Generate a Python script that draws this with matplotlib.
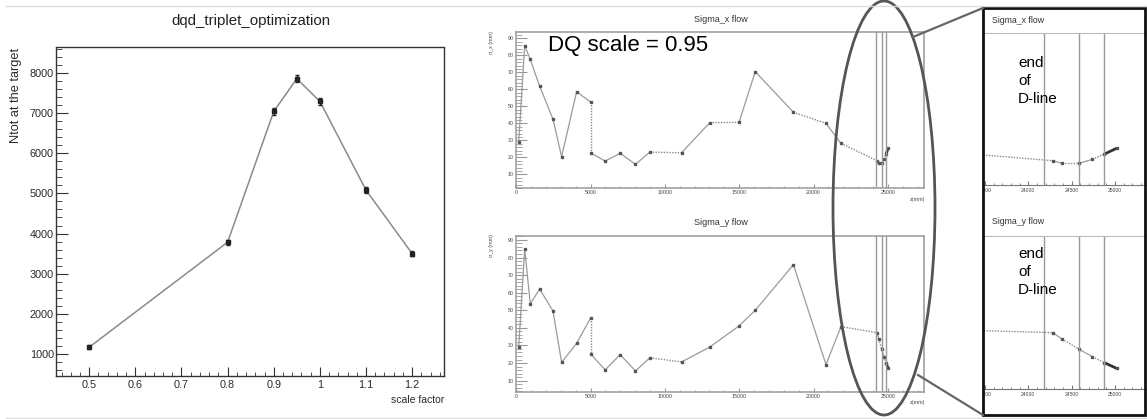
import matplotlib
matplotlib.use("Agg")
import matplotlib.pyplot as plt
import numpy as np
from matplotlib.patches import Ellipse, Rectangle
from matplotlib.lines import Line2D
from matplotlib.transforms import Bbox, TransformedBbox
from matplotlib.ticker import MultipleLocator, FixedLocator

plt.rcParams['font.family'] = ['Liberation Sans', 'DejaVu Sans']

# ---------------- data ----------------
scale_factor = [0.5, 0.8, 0.9, 0.95, 1.0, 1.1, 1.2]
ntot_target = [1170, 3785, 7040, 7855, 7290, 5080, 3500]
ntot_err = [50, 60, 80, 80, 80, 70, 60]

z_mm = [160, 565, 940, 1570, 2470, 3050, 4060, 5000, 5000, 5980, 6990, 8020,
        8990, 11120, 13020, 14990, 16080, 18650, 20840, 21850, 24280, 24390,
        24590, 24740, 24880, 25020]
sigma_x = [28.8, 85.6, 77.6, 61.9, 42.4, 20.4, 58.6, 52.5, 22.7, 17.8, 22.4, 15.9,
           23.1, 22.7, 40.4, 40.6, 70.4, 46.5, 40.0, 28.2, 18.0, 16.5,
           16.5, 18.8, 21.9, 25.3]
sigma_y = [29.0, 84.9, 53.6, 62.1, 49.6, 20.4, 31.2, 45.6, 25.2, 16.1, 24.8, 15.5,
           23.0, 20.6, 29.1, 41.1, 50.0, 75.9, 19.1, 40.7, 37.3, 33.7,
           27.8, 23.6, 20.2, 17.0]
dline_z = [24180, 24590, 24880]

dotted_x = {7, 12, 14, 17, 19, 21, 23}
dotted_y = {7, 12, 19, 21, 23}

W, H = 1147, 419
fig = plt.figure(figsize=(W / 100, H / 100), dpi=100)
fig.patch.set_facecolor('white')


def rect(x0, y0, x1, y1):
    return [x0 / W, 1 - y1 / H, (x1 - x0) / W, (y1 - y0) / H]


def fx(x):
    return x / W


def fy(y):
    return 1 - y / H


# screenshot separators
for yy in (6.5, 417.5):
    fig.add_artist(Line2D([fx(6), 1], [fy(yy), fy(yy)], color='#dddddd', lw=1))

# ---------------- left panel ----------------
ax1 = fig.add_axes(rect(56, 47.5, 444, 376))
ax1.plot(scale_factor, ntot_target, '-', color='#8a8a8a', lw=1.1)
ax1.errorbar(scale_factor, ntot_target, yerr=ntot_err, fmt='s', ms=2.2,
             color='#222222', elinewidth=1, capsize=1.5, capthick=1)
ax1.set_xlim(0.428, 1.269)
ax1.set_ylim(453, 8632)
ax1.xaxis.set_major_locator(FixedLocator([0.5, 0.6, 0.7, 0.8, 0.9, 1.0, 1.1, 1.2]))
ax1.xaxis.set_minor_locator(MultipleLocator(0.02))
ax1.yaxis.set_major_locator(FixedLocator([1000, 2000, 3000, 4000, 5000, 6000, 7000, 8000]))
ax1.yaxis.set_minor_locator(MultipleLocator(200))
ax1.set_xticklabels(['0.5', '0.6', '0.7', '0.8', '0.9', '1', '1.1', '1.2'])
ax1.tick_params(axis='both', which='both', direction='in', top=False, right=False,
                colors='#333333', labelcolor='#2a2a2a', labelsize=7.8)
ax1.tick_params(axis='y', which='major', length=8.4, pad=1.5)
ax1.tick_params(axis='y', which='minor', length=4.3)
ax1.tick_params(axis='x', which='major', length=6.7, pad=3)
ax1.tick_params(axis='x', which='minor', length=3)
for sp in ax1.spines.values():
    sp.set_color('#333333')
    sp.set_linewidth(1)
fig.text(fx(250.5), fy(20.7), 'dqd_triplet_optimization', ha='center', va='center',
         fontsize=10.8, color='#222222')
fig.text(fx(16), fy(47.7), 'Ntot at the target', rotation=90, ha='center', va='top',
         fontsize=9.2, color='#2a2a2a')
fig.text(fx(444), fy(400), 'scale factor', ha='right', va='center', fontsize=7.5,
         color='#2a2a2a')


# ---------------- flow plots ----------------
def draw_flow(ax, yvals, dotted):
    n = len(z_mm)
    for i in range(n - 1):
        seg_z = z_mm[i:i + 2]
        seg_s = yvals[i:i + 2]
        if i == n - 2:
            ax.plot(seg_z, seg_s, '-', color='#333333', lw=2.0, solid_capstyle='butt')
        elif i in dotted:
            ax.plot(seg_z, seg_s, color='#8a8a8a', lw=1.0, ls=(0, (1, 1)))
        else:
            ax.plot(seg_z, seg_s, '-', color='#9a9a9a', lw=0.9)
    ax.plot(z_mm, yvals, 's', ms=1.8, color='#555555', ls='none')
    for zz in dline_z:
        ax.axvline(zz, color='#999999', lw=1.0)


def style_main(ax, ylim):
    ax.set_xlim(0, 27456)
    ax.set_ylim(*ylim)
    ax.xaxis.set_major_locator(FixedLocator([0, 5000, 10000, 15000, 20000, 25000]))
    ax.xaxis.set_minor_locator(MultipleLocator(1000))
    ax.yaxis.set_major_locator(FixedLocator([10, 20, 30, 40, 50, 60, 70, 80, 90]))
    ax.yaxis.set_minor_locator(MultipleLocator(2))
    ax.tick_params(axis='both', which='both', direction='in', top=False, right=False,
                   colors='#999999', labelcolor='#444444', labelsize=3.8)
    ax.tick_params(axis='x', which='major', length=3, pad=1.5)
    ax.tick_params(axis='x', which='minor', length=1.5)
    ax.tick_params(axis='y', which='major', length=8, pad=2)
    ax.tick_params(axis='y', which='minor', length=4.3)
    for sp in ax.spines.values():
        sp.set_color('#999999')
        sp.set_linewidth(1.1)


axx = fig.add_axes(rect(516.3, 31.7, 924.3, 188.3))
draw_flow(axx, sigma_x, dotted_x)
style_main(axx, (1.8, 93.9))
fig.text(fx(720.5), fy(19), 'Sigma_x flow', ha='center', va='center', fontsize=6.5,
         color='#333333')
fig.text(fx(491), fy(31), 'σ_x (mm)', rotation=90, ha='center', va='top', fontsize=3.8,
         color='#444444')
fig.text(fx(925), fy(200), 'z(mm)', ha='right', va='center', fontsize=3.8, color='#444444')
fig.text(fx(547.7), fy(45), 'DQ scale = 0.95', ha='left', va='center', fontsize=16,
         color='black')

axy = fig.add_axes(rect(516.3, 235.7, 924.3, 391.7))
draw_flow(axy, sigma_y, dotted_y)
style_main(axy, (3.7, 92.4))
fig.text(fx(720.7), fy(222.7), 'Sigma_y flow', ha='center', va='center', fontsize=6.5,
         color='#333333')
fig.text(fx(491), fy(234), 'σ_y (mm)', rotation=90, ha='center', va='top', fontsize=3.8,
         color='#444444')
fig.text(fx(925), fy(402), 'z(mm)', ha='right', va='center', fontsize=3.8, color='#444444')

# ---------------- zoomed inset ----------------
clip_bb = TransformedBbox(Bbox([[fx(984), 0], [1, 1]]), fig.transFigure)


def style_inset(ax, ylim):
    ax.set_xlim(23477, 25371)
    ax.set_ylim(*ylim)
    ax.set_facecolor('none')
    ax.xaxis.set_major_locator(FixedLocator([23500, 24000, 24500, 25000]))
    ax.xaxis.set_minor_locator(MultipleLocator(100))
    ax.set_yticks([])
    ax.tick_params(axis='x', which='both', direction='in', top=False,
                   colors='#777777', labelcolor='#444444', labelsize=3.6)
    ax.tick_params(axis='x', which='major', length=3, pad=2)
    ax.tick_params(axis='x', which='minor', length=1.5)
    for s in ('left', 'right'):
        ax.spines[s].set_visible(False)
    ax.spines['bottom'].set_color('#777777')
    ax.spines['top'].set_color('#bbbbbb')
    for lbl in ax.get_xticklabels():
        lbl.set_clip_box(clip_bb)
        lbl.set_clip_on(True)


ixx = fig.add_axes(rect(983, 33, 1147, 185))
draw_flow(ixx, sigma_x, dotted_x)
style_inset(ixx, (3.7, 93.1))
fig.text(fx(991.7), fy(20.7), 'Sigma_x flow', ha='left', va='center', fontsize=6.3,
         color='#333333')
fig.text(fx(1018), fy(56), 'end\nof\nD-line', ha='left', va='top', fontsize=11,
         linespacing=1.37, color='black')

ixy = fig.add_axes(rect(983, 235.7, 1147, 389.3))
draw_flow(ixy, sigma_y, dotted_y)
style_inset(ixy, (5.1, 92.4))
fig.text(fx(991.7), fy(221.7), 'Sigma_y flow', ha='left', va='center', fontsize=6.3,
         color='#333333')
fig.text(fx(1018), fy(247), 'end\nof\nD-line', ha='left', va='top', fontsize=11,
         linespacing=1.37, color='black')

# inset frame, ellipse, connector lines
fig.add_artist(Rectangle((fx(983), fy(415)), (1145 - 983) / W, (415 - 8) / H,
                         transform=fig.transFigure, fill=False, ec='#111111', lw=2))
fig.add_artist(Ellipse((fx(884), fy(208)), 102 / W, 414 / H, transform=fig.transFigure,
                       fill=False, ec='#555555', lw=2))
fig.add_artist(Line2D([fx(913), fx(983)], [fy(37), fy(8)], color='#666666', lw=1.6))
fig.add_artist(Line2D([fx(918), fx(983)], [fy(375), fy(415)], color='#666666', lw=1.6))

fig.savefig('out.png', dpi=100, facecolor='white')
